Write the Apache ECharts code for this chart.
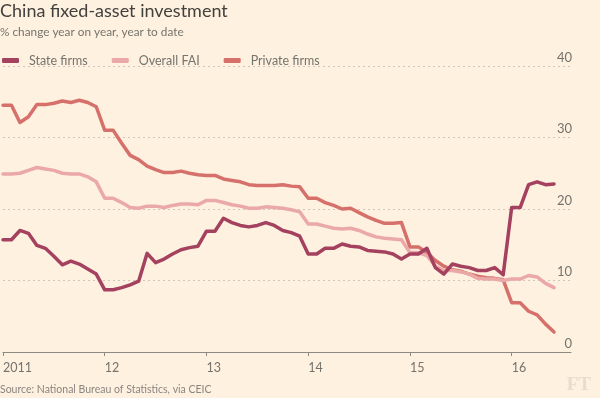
<!DOCTYPE html>
<html>
<head>
<meta charset="utf-8">
<script src="https://cdn.jsdelivr.net/npm/echarts@6/dist/echarts.min.js"></script>
<style>
  html, body { margin: 0; padding: 0; background: #fff1e0; }
  #chart { width: 600px; height: 398px; }
</style>
</head>
<body>
<div id="chart"></div>
<script>
// monthly categories Jan 2011 .. Aug 2016 (Jan values repeat the Jan-Feb figure)
const months = [];
for (let y = 2011; y <= 2016; y++) {
  for (let m = 1; m <= 12; m++) {
    if (y === 2016 && m > 8) break;
    months.push(y + '-' + (m < 10 ? '0' + m : m));
  }
}

const stateFirms = [
  15.7, 15.7, 17.0, 16.6, 14.9, 14.5, 13.4, 12.2, 12.7, 12.3, 11.6, 10.9,
  8.7, 8.7, 9.0, 9.4, 9.9, 13.8, 12.5, 13.0, 13.7, 14.3, 14.6, 14.8,
  16.9, 16.9, 18.7, 18.1, 17.7, 17.5, 17.7, 18.1, 17.7, 17.0, 16.7, 16.2,
  13.7, 13.7, 14.5, 14.5, 15.1, 14.8, 14.7, 14.2, 14.1, 14.0, 13.7, 13.0,
  13.7, 13.7, 14.5, 11.8, 10.9, 12.3, 12.0, 11.8, 11.4, 11.4, 11.8, 10.8,
  20.2, 20.2, 23.4, 23.8, 23.4, 23.5
];
const overallFAI = [
  24.9, 24.9, 25.0, 25.4, 25.8, 25.6, 25.4, 25.0, 24.9, 24.9, 24.5, 23.8,
  21.5, 21.5, 20.9, 20.2, 20.1, 20.4, 20.4, 20.2, 20.5, 20.7, 20.7, 20.6,
  21.2, 21.2, 20.9, 20.6, 20.4, 20.1, 20.1, 20.3, 20.2, 20.1, 19.9, 19.6,
  17.9, 17.9, 17.6, 17.3, 17.2, 17.3, 17.0, 16.5, 16.1, 15.9, 15.8, 15.7,
  13.9, 13.9, 13.5, 12.0, 11.4, 11.4, 11.2, 10.9, 10.3, 10.2, 10.2, 10.0,
  10.2, 10.2, 10.7, 10.5, 9.6, 9.0
];
const privateFirms = [
  34.5, 34.5, 32.1, 32.9, 34.6, 34.6, 34.8, 35.1, 34.9, 35.2, 34.9, 34.3,
  31.0, 31.0, 29.2, 27.5, 26.9, 26.0, 25.5, 25.1, 25.1, 25.3, 25.0, 24.8,
  24.7, 24.7, 24.2, 24.0, 23.8, 23.4, 23.3, 23.3, 23.3, 23.4, 23.2, 23.1,
  21.5, 21.5, 20.9, 20.5, 20.0, 20.1, 19.5, 18.9, 18.4, 18.0, 18.0, 18.1,
  14.7, 14.7, 13.9, 12.8, 12.0, 11.5, 11.3, 10.9, 10.6, 10.4, 10.3, 10.1,
  6.9, 6.9, 5.7, 5.2, 3.9, 2.8
];
const yTicks = [0, 10, 20, 30, 40];

const colors = {
  state: '#a3415f',
  overall: '#eba8a8',
  private: '#d6706b'
};
const grey = '#74736c';

const chart = echarts.init(document.getElementById('chart'));

function lineSeries(name, data, color) {
  return {
    name: name,
    type: 'line',
    data: data,
    showSymbol: false,
    symbol: 'none',
    animation: false,
    lineStyle: { color: color, width: 3.5, join: 'round', cap: 'round' },
    itemStyle: { color: color }
  };
}

chart.setOption({
  backgroundColor: '#fff1e0',
  textStyle: { fontFamily: 'Lato, "Open Sans", sans-serif' },
  title: [{
    text: 'China fixed-asset investment',
    left: -5,
    top: -3,
    textStyle: { fontSize: 18, fontWeight: 'normal', color: '#43413e' }
  }, {
    text: '% change year on year, year to date',
    left: -5,
    top: 21,
    textStyle: { fontSize: 11.8, fontWeight: 'normal', color: grey }
  }, {
    text: 'Source: National Bureau of Statistics, via CEIC',
    left: -5,
    bottom: -2,
    textStyle: { fontSize: 10.5, fontWeight: 'normal', color: '#8b8580' }
  }],
  legend: {
    left: -3,
    top: 49,
    itemWidth: 17,
    itemHeight: 5,
    itemGap: 24,
    icon: 'roundRect',
    data: ['State firms', 'Overall FAI', 'Private firms'],
    textStyle: { fontSize: 12.5, color: grey, padding: [0, 0, 0, 5] }
  },
  graphic: [{
    type: 'text',
    right: 9,
    bottom: 3,
    style: {
      text: 'FT',
      font: 'bold 19px "Liberation Serif", serif',
      fill: '#e8dccf'
    }
  }],
  grid: { left: 2, right: 29, top: 66, bottom: 46 },
  xAxis: {
    type: 'category',
    data: months,
    boundaryGap: false,
    axisLine: { lineStyle: { color: '#8d8a85', width: 1 } },
    axisTick: {
      show: true,
      length: 4,
      interval: function (idx) { return idx % 12 === 0; },
      lineStyle: { color: '#8d8a85' }
    },
    axisLabel: {
      interval: function (idx) { return idx % 12 === 0; },
      margin: 9,
      align: 'left',
      fontSize: 12.5,
      color: grey,
      formatter: function (v) {
        const yr = v.slice(0, 4);
        return yr === '2011' ? yr : yr.slice(2);
      }
    },
    splitLine: { show: false }
  },
  yAxis: {
    type: 'value',
    position: 'right',
    min: yTicks[0],
    max: yTicks[yTicks.length - 1],
    interval: 10,
    axisLine: { show: false },
    axisTick: { show: false },
    axisLabel: {
      inside: true,
      margin: -1,
      align: 'right',
      verticalAlign: 'bottom',
      padding: [0, 0, 2, 0],
      fontSize: 13,
      color: grey
    },
    splitLine: { lineStyle: { color: '#cfc6bb', type: [2, 3], width: 1 } }
  },
  series: [
    lineSeries('Private firms', privateFirms, colors.private),
    lineSeries('Overall FAI', overallFAI, colors.overall),
    lineSeries('State firms', stateFirms, colors.state)
  ]
});
</script>
</body>
</html>
